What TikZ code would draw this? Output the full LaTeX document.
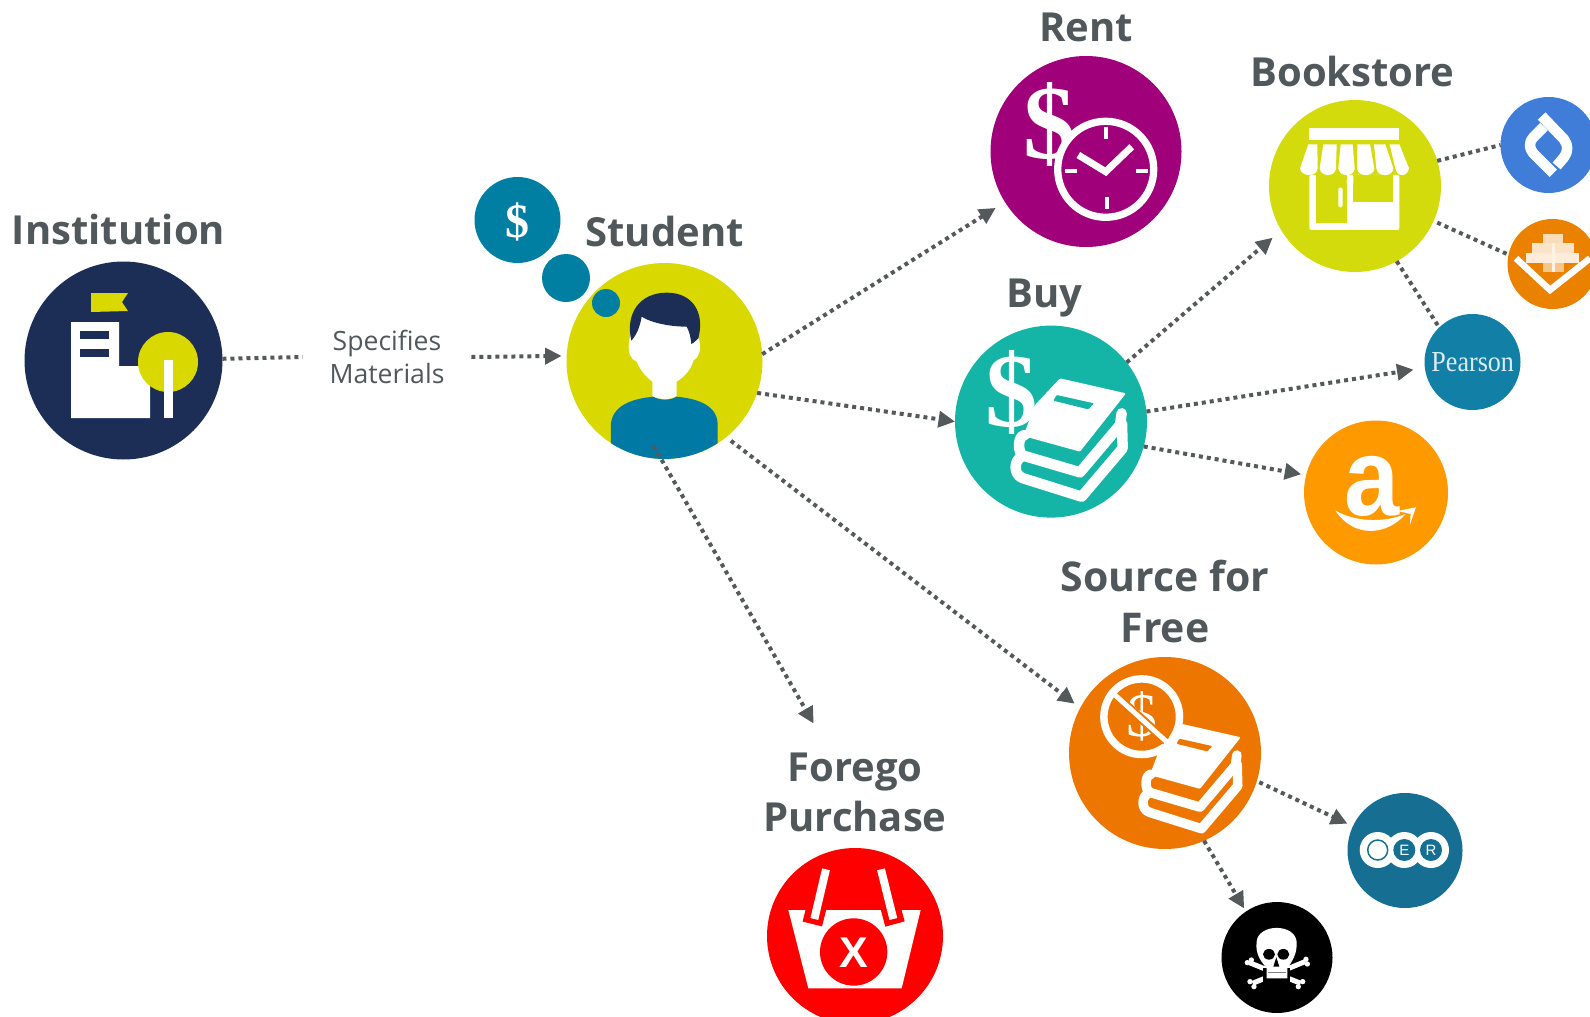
\documentclass[tikz,border=0pt]{standalone}
\usepackage{fontspec}
\usetikzlibrary{arrows.meta}
\setmainfont{Open Sans}
\newfontfamily\serifx{Liberation Serif}
\newfontfamily\sansx{Liberation Sans}
\definecolor{labelgray}{HTML}{50585B}
\definecolor{linkgray}{HTML}{54595C}
\definecolor{instnavy}{HTML}{1C2E55}
\definecolor{limea}{HTML}{D9D800}
\definecolor{limeb}{HTML}{D4DB0C}
\definecolor{thinkblue}{HTML}{007FA3}
\definecolor{shirtblue}{HTML}{0079A5}
\definecolor{rentpurple}{HTML}{A0007A}
\definecolor{buyteal}{HTML}{14B5A6}
\definecolor{pearsonblue}{HTML}{127FA6}
\definecolor{logoblue}{HTML}{3F7DD9}
\definecolor{logoorange}{HTML}{EA8200}
\definecolor{amazonorange}{HTML}{FF9900}
\definecolor{sourceorange}{HTML}{EC7600}
\definecolor{oerblue}{HTML}{166F93}
\tikzset{
  disc/.style={circle,inner sep=0pt,outer sep=0pt,minimum size=#1},
  heading/.style={font=\bfseries\fontsize{40}{50}\selectfont,text=labelgray,inner sep=0pt,align=center},
  link/.style={draw=linkgray,line width=4pt,dash pattern=on 4pt off 4pt},
  arrowlink/.style={link,-{Triangle[length=16.5pt,width=16pt]}},
  glyph/.style={inner sep=0pt,outer sep=0pt,text=white}
}
\newcommand{\booksicon}[2]{%
  \fill[white,rounded corners=1pt] (360,205) -- (558,250) -- (420,425) -- (250,378) -- (285,285) -- cycle;
  \fill[#1,rounded corners=1pt] (350,255) -- (462,280) -- (445,298) -- (340,272) -- cycle;
  \draw[white,line width=#2,line cap=round,line join=round]
    (255,375) .. controls (232,375) and (232,430) .. (250,437) -- (420,487) -- (540,345) -- (545,310);
  \draw[white,line width=#2,line cap=round,line join=round]
    (245,440) .. controls (222,450) and (218,495) .. (250,505) -- (425,560) -- (548,415) -- (546,340);
}
\begin{document}
\begin{tikzpicture}[x=1pt,y=-1pt]
\useasboundingbox (0,0) rectangle (1590,1017);
\clip (0,0) rectangle (1590,1017);

% ---------- discs
\node[disc=198,fill=instnavy] (inst) at (123.5,360.5) {};
\node[disc=196,fill=limea] (stu) at (664.5,361) {};
\node[disc=86,fill=thinkblue] (thinkA) at (517.5,220) {};
\node[disc=48,fill=thinkblue] (thinkB) at (566,278) {};
\node[disc=28,fill=thinkblue] (thinkC) at (606,303) {};
\node[disc=191,fill=rentpurple] (rent) at (1086,151.5) {};
\node[disc=192,fill=buyteal] (buy) at (1051,421.6) {};
\node[disc=172,fill=limeb] (shop) at (1355,186) {};
\node[disc=96,fill=pearsonblue] (pearson) at (1472.5,362) {};
\node[disc=96,fill=logoblue] (logoa) at (1548.5,145) {};
\node[disc=90,fill=logoorange] (logob) at (1552.5,264) {};
\node[disc=144,fill=amazonorange] (amazon) at (1376,492.5) {};
\node[disc=192,fill=sourceorange] (source) at (1165,753) {};
\node[disc=115,fill=oerblue] (oer) at (1405,850.5) {};
\node[disc=111,fill=black] (skull) at (1277,957.5) {};
\node[disc=176,fill=red] (forego) at (855,936) {};

% ---------- headings
\node[heading,anchor=base] (lInst) at (118.5,244) {Institution};
\node[heading,anchor=base] (lStu) at (664.5,246) {Student};
\node[heading,anchor=base] (lRent) at (1086,41) {Rent};
\node[heading,anchor=base] (lShop) at (1352.5,86) {Bookstore};
\node[heading,anchor=base] (lBuy) at (1044.5,307) {Buy};
\node[heading,font=\bfseries\fontsize{41}{51}\selectfont] (lSource) at (1165,601.5) {Source for\\Free};
\node[heading] (lForego) at (855,792.5) {Forego\\Purchase};
\node[inner sep=0pt,inner xsep=27pt,outer sep=0pt,align=center,text=labelgray,font=\fontsize{26.6}{33.5}\selectfont] (spec) at (387,357) {Specifies\\Materials};

% ---------- institution icon
\fill[white] (71,322) -- (119,322) -- (119,366) -- (150,366) -- (150,418) -- (71,418) -- cycle;
\fill[instnavy] (80,331) rectangle (109,339);
\fill[instnavy] (80,349) rectangle (109,357);
\fill[limea] (91,293) -- (128,293) -- (122,302) -- (128,311) -- (91,312) -- cycle;
\fill[limea] (168,362) circle [radius=30];
\fill[white] (164,360) rectangle (173,418);

% ---------- student icon
\begin{scope}[shift={(460,170)},x=.3333pt,y=-.3333pt]
  \clip (613,573) circle [radius=294];
  \fill[shirtblue] (453,900) -- (453,760) .. controls (460,700) and (530,685) .. (580,680)
     .. controls (600,692) and (630,692) .. (650,680) .. controls (700,685) and (770,700) .. (773,760) -- (773,900) -- cycle;
\end{scope}
\begin{scope}[shift={(460,170)},x=.3333pt,y=-.3333pt]
  \fill[white] (540,420) .. controls (505,490) and (490,560) .. (530,575) .. controls (545,610) and (565,625) .. (577,635)
     -- (577,678) .. controls (600,690) and (630,690) .. (650,678) -- (650,635)
     .. controls (675,620) and (695,595) .. (700,572) .. controls (730,555) and (725,495) .. (700,495) -- (700,420) -- cycle;
  \fill[instnavy] (514,512) .. controls (495,430) and (540,368) .. (620,368)
     .. controls (700,368) and (735,430) .. (715,505) .. controls (708,512) and (700,520) .. (694,522)
     .. controls (692,500) and (688,485) .. (680,470) .. controls (640,470) and (580,462) .. (545,440)
     .. controls (540,470) and (530,495) .. (514,512) -- cycle;
\end{scope}
\node[glyph,font=\serifx\bfseries\fontsize{48}{48}\selectfont] (dollarT) at (517.3,221.7) {\$};

% ---------- rent icon
\node[glyph,font=\serifx\bfseries\fontsize{105}{105}\selectfont] (dollarR) at (1049.5,124) {\$};
\draw[white,line width=7.3pt,fill=rentpurple] (1105.7,169.3) circle [radius=48];
\draw[white,line width=4pt] (1106,126.7) -- (1106,139);
\draw[white,line width=4pt] (1107,196.7) -- (1107,209);
\draw[white,line width=4pt] (1065,171) -- (1077.3,171);
\draw[white,line width=4pt] (1136,171) -- (1148,171);
\draw[white,line width=7pt] (1078.3,155) -- (1105.7,171.7) -- (1131.7,146.7);

% ---------- buy icon
\node[glyph,font=\serifx\bfseries\fontsize{105}{105}\selectfont] (dollarB) at (1011.7,392.7) {\$};
\begin{scope}[shift={(940,310)},x=.3333pt,y=-.3333pt]
  \booksicon{buyteal}{10.5pt}
\end{scope}

% ---------- bookstore icon
\begin{scope}[shift={(1240,80)},x=.3333pt,y=-.3333pt]
  \fill[white,rounded corners=2pt] (208,285) rectangle (478,450);
  \fill[limeb] (228,280) rectangle (320,430);
  \fill[limeb] (340,285) rectangle (458,365);
  \fill[white] (320,300) -- (340,288) -- (340,310) -- (320,310) -- cycle;
  \fill[white,rounded corners=1.5pt] (295,323) rectangle (308,382);
  \fill[white] (207,145) rectangle (478,180);
  \fill[white] (205,193) -- (232,193) -- (233,265) .. controls (230,292) and (185,292) .. (180,265) -- cycle;
  \fill[white] (250,193) -- (290,193) -- (288,265) .. controls (285,292) and (243,292) .. (239,265) -- cycle;
  \fill[white] (302,193) -- (338,193) -- (344,265) .. controls (342,292) and (298,292) .. (295,265) -- cycle;
  \fill[white] (352,193) -- (390,193) -- (403,265) .. controls (402,292) and (353,292) .. (351,265) -- cycle;
  \fill[white] (402,193) -- (436,193) -- (460,265) .. controls (458,292) and (412,292) .. (409,265) -- cycle;
  \fill[white] (449,193) -- (478,193) -- (507,265) .. controls (502,292) and (470,292) .. (466,265) -- cycle;
\end{scope}

% ---------- side logos
\begin{scope}[shift={(1240,80)},x=.3333pt,y=-.3333pt]
  \draw[white,line width=10.5pt,line join=round] (905,108) -- (972,178) .. controls (985,195) and (985,215) .. (972,232) -- (950,258);
  \draw[white,line width=10.5pt,line join=round] (912,140) -- (880,172) .. controls (865,190) and (868,205) .. (880,220) -- (940,280);
  \fill[white!72!logoorange] (910,463) rectangle (970,490);
  \fill[white!78!logoorange] (875,490) rectangle (1003,520);
  \fill[white!85!logoorange] (858,518) rectangle (1018,548);
  \fill[white!55!logoorange] (908,548) rectangle (972,575);
  \fill[white!90!logoorange] (935,490) rectangle (945,575);
  \draw[white,line width=6.5pt] (828,535) -- (930,630) -- (1050,535);
\end{scope}
\node[glyph,text=white!85!pearsonblue,xscale=.9,font=\serifx\fontsize{29}{29}\selectfont] (pearsonT) at (1472.7,361.7) {Pearson};

% ---------- amazon icon
\node[glyph,font=\sansx\bfseries\fontsize{110}{110}\selectfont,xscale=.9] (amazonA) at (1372.5,486) {a};
\begin{scope}[shift={(940,310)},x=.3333pt,y=-.3333pt]
  \fill[white] (1186,601) .. controls (1240,635) and (1330,640) .. (1397,612) .. controls (1340,678) and (1240,685) .. (1186,601) -- cycle;
  \fill[white] (1372,603) -- (1428,592) -- (1410,644) -- (1412,612) -- cycle;
\end{scope}

% ---------- source icon
\begin{scope}[shift={(1076.1,663.5)},x=.295pt,y=-.295pt]
  \booksicon{sourceorange}{9.5pt}
\end{scope}
\draw[white,line width=7.5pt,fill=sourceorange] (1141.7,716.7) circle [radius=37.8];
\node[glyph,font=\serifx\fontsize{62}{62}\selectfont] (dollarS) at (1141.5,716.5) {\$};
\draw[sourceorange,line width=9pt] (1117,697) -- (1166,741);
\draw[white,line width=5pt] (1115,695) -- (1168,743);

% ---------- OER icon
\fill[white] (1377.7,850) circle [radius=18];
\fill[white] (1404.3,850) circle [radius=18];
\fill[white] (1431,850) circle [radius=18];
\draw[oerblue,line width=1.5pt,fill=white] (1377.7,850) circle [radius=10];
\node[disc=22,fill=oerblue,text=white,font=\sansx\fontsize{15}{15}\selectfont] (oerE) at (1404.3,850) {E};
\node[disc=22,fill=oerblue,text=white,font=\sansx\fontsize{15}{15}\selectfont] (oerR) at (1431,850) {R};

% ---------- skull icon
\begin{scope}[shift={(1050,640)},x=.3333pt,y=-.3333pt]
  \draw[white,line width=5pt] (598,968) -- (752,1030);
  \draw[white,line width=5pt] (765,965) -- (608,1030);
  \foreach \a/\b in {592/968,604/960,768/958,772/972,600/1025,612/1040,745/1040,758/1025} {\fill[white] (\a,\b) circle [radius=8];}
  \fill[black] (640,985) rectangle (720,1025);
  \fill[white] (620,905) .. controls (625,850) and (735,850) .. (740,905) .. controls (742,945) and (725,965) .. (712,985)
     -- (712,1015) -- (650,1015) -- (650,985) .. controls (635,965) and (615,945) .. (620,905) -- cycle;
  \fill[black] (657,943) ellipse [x radius=18,y radius=16];
  \fill[black] (700,943) ellipse [x radius=18,y radius=16];
  \fill[black] (679,952) -- (670,980) -- (688,980) -- cycle;
  \draw[gray,line width=.6pt] (655,998) -- (708,998);
\end{scope}

% ---------- forego icon
\begin{scope}[shift={(750,830)},x=.3333pt,y=-.3333pt]
  \fill[white] (115,240) -- (512,240) -- (455,475) -- (175,475) -- cycle;
  \fill[red] (311,366) circle [radius=101];
  \draw[red,line width=20pt] (210,190) -- (187,282);
  \draw[red,line width=20pt] (410,190) -- (435,282);
  \draw[white,line width=8pt] (228,118) -- (193,267);
  \draw[white,line width=8pt] (393,118) -- (430,267);
\end{scope}
\node[glyph,font=\sansx\bfseries\fontsize{43}{43}\selectfont] (basketX) at (853.7,952.3) {X};

% ---------- connectors
\draw[link] (inst.1.7) -- (spec.west);
\draw[arrowlink,shorten >=5pt] (spec.east) -- (stu.177.8);
\draw[arrowlink,shorten >=11pt] (stu.4.6) -- (rent.212.8);
\draw[arrowlink] (stu.-19.9) -- (buy.180);
\draw[arrowlink,shorten <=6pt,shorten >=7pt] (stu.-51.3) -- (source.152.9);
\draw[arrowlink,shorten <=-15pt,shorten >=151.7pt] (stu.268) -- (forego.67.2);
\draw[arrowlink,shorten >=11.4pt] (buy.38.7) -- (shop.211.6);
\draw[arrowlink,shorten >=11.5pt] (buy.6.9) -- (pearson.187.7);
\draw[arrowlink,shorten >=5pt] (buy.-15.1) -- (amazon.166.5);
\draw[link] (shop.17.6) -- (logoa.180);
\draw[link,shorten <=4pt] (shop.-24.9) -- (logob.168.7);
\draw[link] (shop.-61.4) -- (pearson.134.2);
\draw[arrowlink,shorten <=2.7pt,shorten >=6pt] (source.-17.7) -- (oer.155.9);
\draw[arrowlink,shorten >=3.5pt] (source.-66.9) -- (skull.124);
\end{tikzpicture}
\end{document}
